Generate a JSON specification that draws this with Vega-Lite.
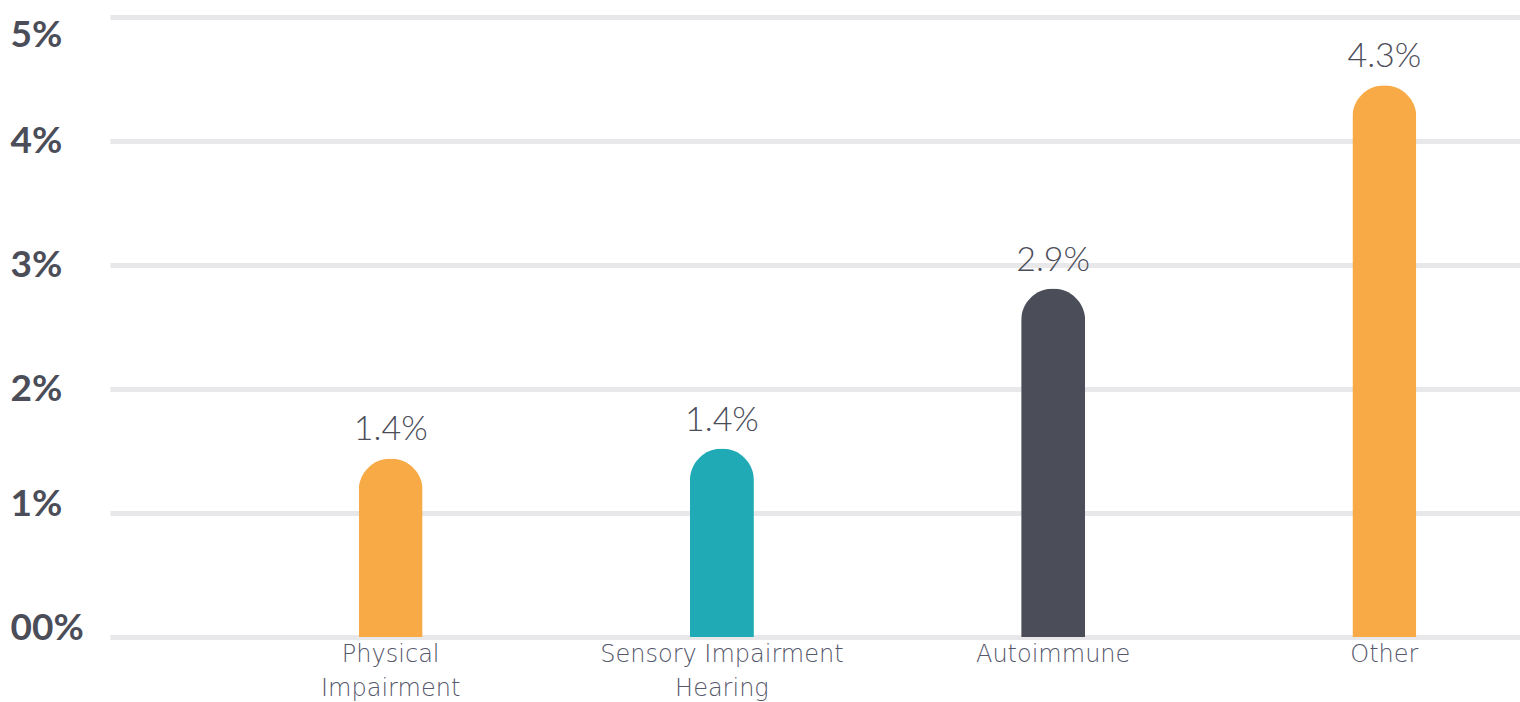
{
  "$schema": "https://vega.github.io/schema/vega-lite/v6.json",
  "width": 1402,
  "height": 620,
  "autosize": {"type": "none"},
  "padding": {"left": 110, "top": 17, "right": 8, "bottom": 65},
  "background": "white",
  "config": {"view": {"stroke": null}},
  "data": {
    "values": [
      {"category": "Physical Impairment", "value": 1.44, "label": "1.4%"},
      {"category": "Sensory Impairment Hearing", "value": 1.52, "label": "1.4%"},
      {"category": "Autoimmune", "value": 2.81, "label": "2.9%"},
      {"category": "Other", "value": 4.45, "label": "4.3%"}
    ]
  },
  "encoding": {
    "x": {
      "field": "category",
      "type": "nominal",
      "sort": null,
      "scale": {"range": [0, 1440], "paddingInner": 0, "paddingOuter": 0.1737, "align": 1},
      "axis": {
        "title": null,
        "domain": false,
        "ticks": false,
        "labelAngle": 0,
        "labelFont": "DejaVu Sans",
        "labelFontSize": 24,
        "labelFontWeight": 200,
        "labelColor": "#55576a",
        "labelPadding": 5,
        "labelLineHeight": 34,
        "labelLimit": 400,
        "labelExpr": "datum.value == 'Physical Impairment' ? ['Physical', 'Impairment'] : datum.value == 'Sensory Impairment Hearing' ? ['Sensory Impairment', 'Hearing'] : datum.value"
      }
    },
    "y": {
      "field": "value",
      "type": "quantitative",
      "scale": {"domain": [0, 5], "nice": false},
      "axis": {
        "title": null,
        "domain": false,
        "ticks": false,
        "values": [0, 1, 2, 3, 4, 5],
        "grid": true,
        "gridColor": "#e8e8ea",
        "gridWidth": 5,
        "labelAlign": "left",
        "labelBaseline": {"condition": {"test": "datum.value == 5", "value": "top"}, "value": "middle"},
        "labelOffset": {"condition": {"test": "datum.value <= 1", "value": -9}, "value": 0},
        "labelPadding": 100,
        "labelFont": "Lato",
        "labelFontSize": 37,
        "labelFontWeight": "bold",
        "labelColor": "#4b4d59",
        "labelExpr": "datum.value == 0 ? '00%' : datum.value + '%'"
      }
    }
  },
  "layer": [
    {
      "mark": {"type": "bar", "size": 64, "cornerRadiusTopLeft": 32, "cornerRadiusTopRight": 32},
      "encoding": {
        "color": {
          "field": "category",
          "type": "nominal",
          "legend": null,
          "scale": {
            "domain": ["Physical Impairment", "Sensory Impairment Hearing", "Autoimmune", "Other"],
            "range": ["#f8aa46", "#1faab5", "#4b4d59", "#f8aa46"]
          }
        }
      }
    },
    {
      "mark": {"type": "text", "baseline": "alphabetic", "dy": -18, "font": "Lato", "fontSize": 34, "fontWeight": 300, "color": "#4b4d59"},
      "encoding": {"text": {"field": "label"}}
    }
  ]
}
